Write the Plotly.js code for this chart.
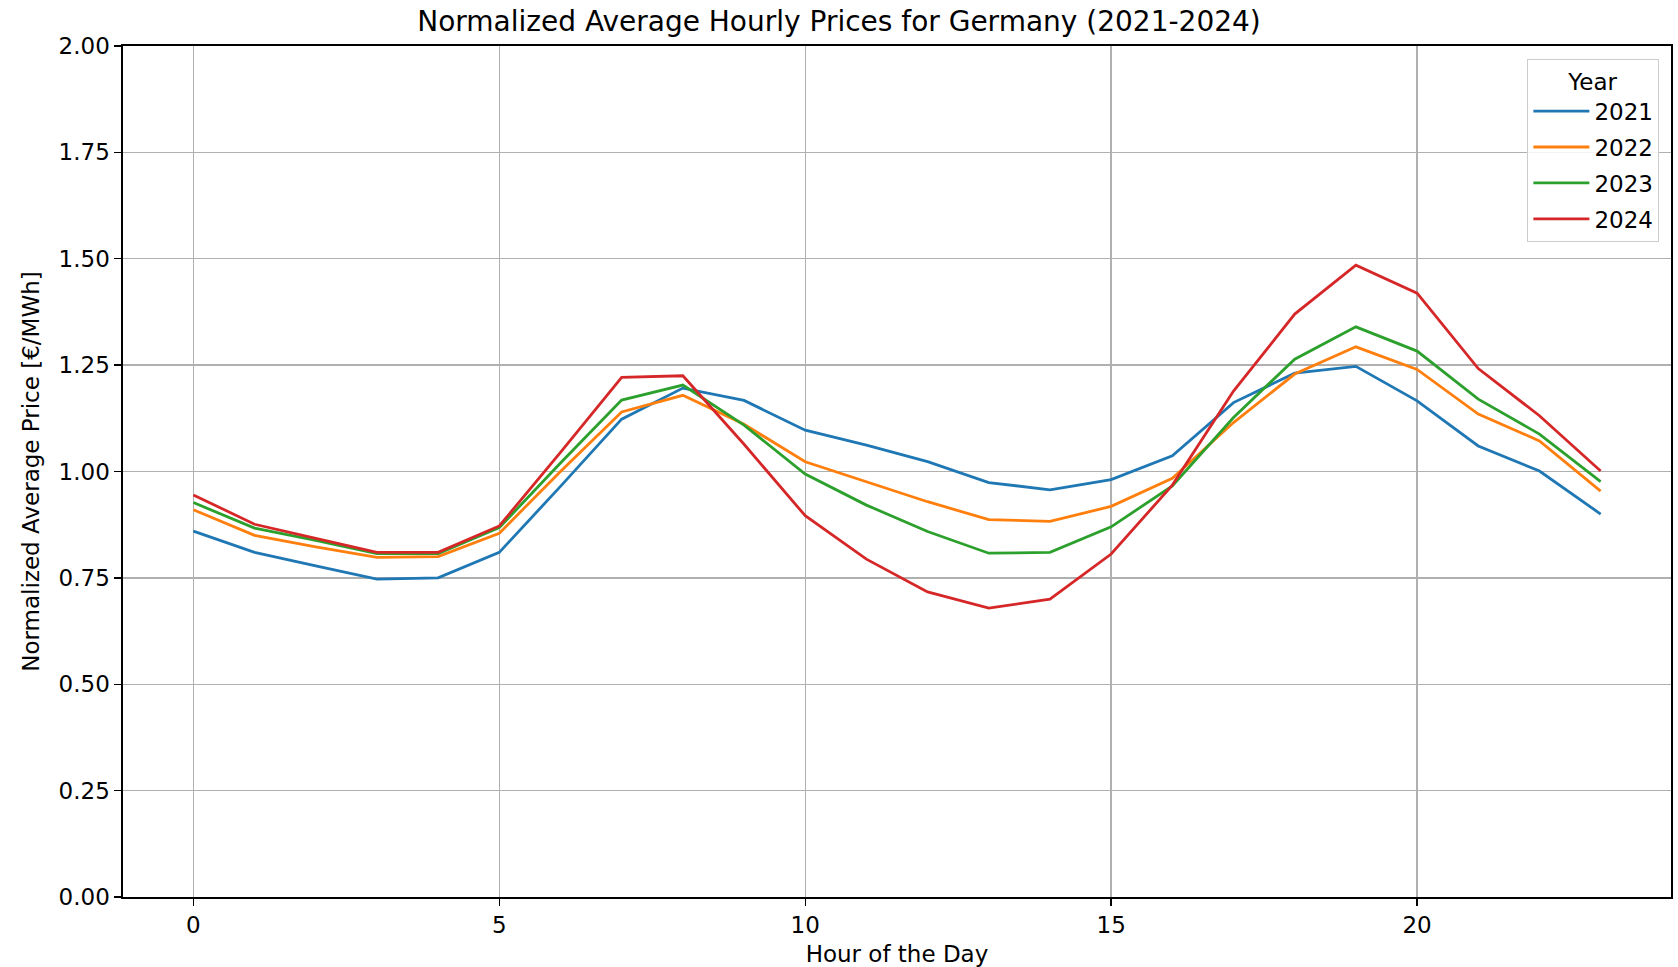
<!DOCTYPE html>
<html>
<head>
<meta charset="utf-8">
<script src="https://cdn.plot.ly/plotly-3.0.1.min.js"></script>
<style>html,body{margin:0;padding:0;background:#fff;}#chart{width:1678px;height:967px;}</style>
</head>
<body>
<div id="chart"></div>
<script>
const hours = [0,1,2,3,4,5,6,7,8,9,10,11,12,13,14,15,16,17,18,19,20,21,22,23];
const years = ["2021","2022","2023","2024"];
const colors = ["#1f77b4","#ff7f0e","#2ca02c","#d62728"];
const y2021 = [0.860,0.810,0.778,0.747,0.750,0.810,0.965,1.123,1.196,1.167,1.097,1.062,1.023,0.974,0.957,0.981,1.037,1.162,1.231,1.247,1.166,1.060,1.001,0.900];
const y2022 = [0.910,0.850,0.823,0.798,0.800,0.855,1.000,1.140,1.179,1.111,1.023,0.976,0.929,0.887,0.883,0.918,0.984,1.115,1.229,1.293,1.240,1.135,1.072,0.954];
const y2023 = [0.927,0.867,0.838,0.807,0.807,0.868,1.020,1.168,1.203,1.109,0.994,0.921,0.859,0.808,0.810,0.870,0.966,1.127,1.264,1.340,1.283,1.170,1.088,0.976];
const y2024 = [0.945,0.876,0.843,0.810,0.810,0.872,1.045,1.221,1.225,1.064,0.896,0.794,0.717,0.679,0.700,0.806,0.968,1.189,1.370,1.485,1.419,1.242,1.131,1.001];
const series = [y2021,y2022,y2023,y2024];
const xTicks = [0,5,10,15,20];
const yTicks = [0,0.25,0.5,0.75,1.0,1.25,1.5,1.75,2.0];

const font = "DejaVu Sans, sans-serif";
const traces = series.map((s,i)=>({
  x: hours, y: s, type: "scatter", mode: "lines", name: years[i],
  legendgroup: years[i],
  line: {color: colors[i], width: 2.8}
}));

const layout = {
  width: 1678, height: 967,
  paper_bgcolor: "#fff", plot_bgcolor: "#fff",
  margin: {l: 123, r: 7, t: 46, b: 70},
  font: {family: font, size: 23, color: "#000"},
  title: {text: "Normalized Average Hourly Prices for Germany (2021-2024)", font: {family: font, size: 28, color: "#000"}, x: 0.5, xanchor: "center", y: 0.978, yanchor: "middle"},
  xaxis: {
    range: [-1.15, 24.15], tickvals: xTicks, ticktext: xTicks.map(String),
    showgrid: true, gridcolor: "#b0b0b0", gridwidth: 1.4,
    showline: true, linecolor: "#000", linewidth: 1.6, mirror: true,
    ticks: "outside", ticklen: 7, tickwidth: 1.4, tickcolor: "#000",
    zeroline: false, tickfont: {family: font, size: 23},
    title: {text: "Hour of the Day", font: {family: font, size: 23}, standoff: 8}
  },
  yaxis: {
    range: [0, 2], tickvals: yTicks, ticktext: yTicks.map(v=>v.toFixed(2)),
    showgrid: true, gridcolor: "#b0b0b0", gridwidth: 1.4,
    showline: true, linecolor: "#000", linewidth: 1.6, mirror: true,
    ticks: "outside", ticklen: 7, tickwidth: 1.4, tickcolor: "#000",
    zeroline: false, tickfont: {family: font, size: 23},
    title: {text: "Normalized Average Price [€/MWh]", font: {family: font, size: 23}, standoff: 12}
  },
  legend: {
    x: 0.9925, xanchor: "right", y: 0.985, yanchor: "top",
    bgcolor: "rgba(255,255,255,0.85)", bordercolor: "#cccccc", borderwidth: 1,
    font: {family: font, size: 23},
    title: {text: "Year", side: "top center", font: {family: font, size: 23}},
    itemwidth: 56,
    traceorder: "grouped",
    tracegroupgap: 3
  },
  showlegend: true
};
Plotly.newPlot("chart", traces, layout, {displayModeBar: false, staticPlot: true});
</script>
</body>
</html>
